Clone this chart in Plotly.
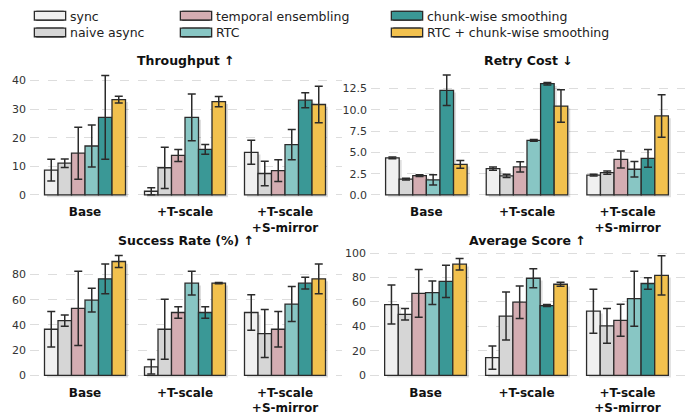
import plotly.graph_objects as go

groups = ["Base", "+T-scale", "+T-scale<br>+S-mirror"]
methods = ["sync", "naive async", "temporal ensembling", "RTC", "chunk-wise smoothing", "RTC + chunk-wise smoothing"]
colors = ["#f0f0f0", "#d6d6d6", "#d4adb2", "#88c6c4", "#3a9896", "#f2c14e"]

# per metric: one list per method, values for [Base, +T-scale, +T-scale +S-mirror]
throughput = [[8.7, 1.3, 14.9], [11.1, 9.5, 7.5], [14.6, 13.8, 8.5], [17.1, 27.1, 17.6], [27.1, 15.9, 33.1], [33.3, 32.6, 31.6]]
throughput_err = [[3.8, 1.2, 4.2], [1.5, 7.2, 4.3], [9.1, 2.1, 3.8], [7.3, 8.2, 5.3], [14.6, 1.7, 2.6], [1.2, 1.8, 6.4]]

retry = [[4.37, 3.1, 2.32], [1.86, 2.24, 2.63], [2.28, 3.3, 4.18], [1.78, 6.42, 3.02], [12.3, 13.08, 4.3], [3.6, 10.45, 9.29]]
retry_err = [[0.1, 0.2, 0.1], [0.1, 0.2, 0.2], [0.1, 0.6, 1.0], [0.6, 0.1, 0.9], [1.8, 0.15, 1.05], [0.45, 1.9, 2.5]]

success = [[36.6, 6.8, 49.9], [43.4, 36.6, 33.2], [53.2, 49.9, 36.6], [59.7, 73.2, 56.6], [76.6, 49.9, 73.2], [90.4, 73.2, 76.6]]
success_err = [[14.1, 5.8, 14.0], [4.5, 23.8, 19.0], [29.5, 4.5, 14.1], [9.5, 9.5, 13.9], [11.8, 4.5, 4.7], [4.8, 0.5, 11.8]]

score = [[57.9, 14.5, 52.5], [49.9, 48.5, 40.5], [67.0, 59.8, 45.0], [67.6, 79.4, 62.7], [76.9, 57.1, 75.1], [90.9, 74.5, 81.8]]
score_err = [[16.0, 9.6, 18.0], [4.7, 19.6, 14.2], [19.5, 13.3, 13.1], [9.6, 7.8, 22.5], [13.2, 0.8, 4.7], [4.7, 1.7, 16.0]]

panels = [
    ("Throughput ↑", throughput, throughput_err, [0, 44], [0, 10, 20, 30, 40], "x", "y"),
    ("Retry Cost ↓", retry, retry_err, [0, 14.8], [0, 2.5, 5, 7.5, 10, 12.5], "x2", "y2"),
    ("Success Rate (%) ↑", success, success_err, [0, 100], [0, 20, 40, 60, 80], "x3", "y3"),
    ("Average Score ↑", score, score_err, [0, 103], [0, 20, 40, 60, 80, 100], "x4", "y4"),
]

W, H = 686, 418
FONT = "DejaVu Sans"
EDGE = "#2b2b2b"
bar_w = 0.135

# domains in pixels (left, right) / (top, bottom)
x_doms = [(30, 342), (371, 685), (30, 342), (370, 685)]
y_doms = [(68, 199), (68, 199), (251, 382), (251, 382)]

fig = go.Figure()

for p, (title, vals, errs, yrange, ticks, xa, ya) in enumerate(panels):
    dy = (yrange[1] - yrange[0]) * 0.018
    # soft drop shadows behind the bars
    for i in range(len(methods)):
        fig.add_trace(go.Bar(
            x=[0, 1, 2], y=vals[i], base=-dy, width=bar_w, offset=-0.405 + i * bar_w + 0.025,
            marker=dict(color="rgba(0,0,0,0.13)", line=dict(width=0)),
            showlegend=False, hoverinfo="skip", xaxis=xa, yaxis=ya,
        ))
    for i, name in enumerate(methods):
        fig.add_trace(go.Bar(
            x=[0, 1, 2], y=vals[i], width=bar_w, offset=-0.405 + i * bar_w,
            name=name, showlegend=False,
            marker=dict(color=colors[i], line=dict(color=EDGE, width=1.3)),
            error_y=dict(type="data", array=errs[i], color=EDGE, thickness=1.5, width=4),
            xaxis=xa, yaxis=ya,
        ))

# legend: 3 columns x 2 rows of wide outlined swatches
leg_cols = [30, 176, 387]
leg_rows = [1 + 1 / H, 1 - 16 / H]
legends = {}
n_leg = 0
legend_base = dict(
    orientation="v", xanchor="left", yanchor="top",
    font=dict(size=12.5, color="#222222", family=FONT),
    bgcolor="rgba(0,0,0,0)", borderwidth=0, itemwidth=30,
)


def new_legend(x_px, y):
    global n_leg
    n_leg += 1
    key = "legend" if n_leg == 1 else f"legend{n_leg}"
    legends[key] = dict(legend_base, x=x_px / W, y=y)
    return key


for i, name in enumerate(methods):
    col, row = divmod(i, 2)
    for dx in (-1.3, 1.3):
        fig.add_trace(go.Scatter(
            x=[None], y=[None], mode="lines", name=" ",
            line=dict(color=EDGE, width=10),
            legend=new_legend(leg_cols[col] + dx, leg_rows[row]), hoverinfo="skip",
        ))
for i, name in enumerate(methods):
    col, row = divmod(i, 2)
    fig.add_trace(go.Scatter(
        x=[None], y=[None], mode="lines", name=name,
        line=dict(color=colors[i], width=7.4),
        legend=new_legend(leg_cols[col], leg_rows[row]), hoverinfo="skip",
    ))

layout = dict(
    width=W, height=H, barmode="overlay",
    margin=dict(l=0, r=0, t=0, b=0),
    paper_bgcolor="white", plot_bgcolor="white",
    font=dict(family=FONT, size=11, color="#333333"),
    showlegend=True,
)
layout.update(legends)

annotations = []
for p, (title, vals, errs, yrange, ticks, xa, ya) in enumerate(panels):
    xk = "xaxis" if p == 0 else f"xaxis{p + 1}"
    yk = "yaxis" if p == 0 else f"yaxis{p + 1}"
    x0, x1 = x_doms[p]
    y0, y1 = y_doms[p]
    layout[xk] = dict(
        domain=[x0 / W, x1 / W], anchor=ya, range=[-0.55, 2.57],
        tickvals=[0, 1, 2], ticktext=[f"<b>{g}</b>" for g in groups],
        tickfont=dict(size=12, color="#111111", family=FONT),
        showgrid=False, zeroline=False, showline=False, ticks="", ticklabelstandoff=5,
    )
    dy = (yrange[1] - yrange[0]) * 0.018
    layout[yk] = dict(
        domain=[1 - y1 / H, 1 - y0 / H], anchor=xa, range=[yrange[0] - dy * 1.4, yrange[1]],
        tickvals=ticks, ticktext=[f"{t:.1f}" if p == 1 else f"{t:g}" for t in ticks],
        showgrid=True, gridcolor="#dddddd", griddash="dash", gridwidth=0.8,
        zeroline=False, showline=False, ticks="", ticklabelstandoff=3,
        tickfont=dict(size=11, color="#333333"),
    )
    annotations.append(dict(
        text=f"<b>{title}</b>", x=(x0 + x1) / 2 / W, y=1 - (y0 - 9) / H,
        xref="paper", yref="paper", xanchor="center", yanchor="middle",
        showarrow=False, font=dict(size=12.5, color="#111111", family=FONT),
    ))
layout["annotations"] = annotations

fig.update_layout(**layout)
fig.write_html(
    "out.html",
    config={"displayModeBar": False},
    post_script="document.body.style.margin='0';document.body.style.overflow='hidden';",
)
